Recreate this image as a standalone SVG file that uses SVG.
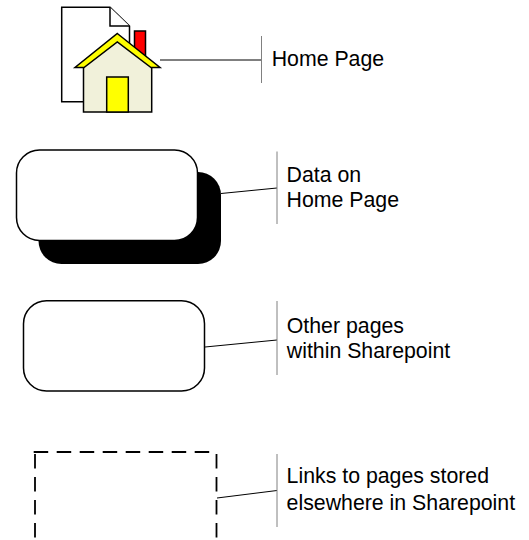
<svg xmlns="http://www.w3.org/2000/svg" width="529" height="540" viewBox="0 0 529 540">
<style>
.o{stroke:#000;stroke-width:1.5;stroke-linejoin:miter}
.b{fill:none;stroke:#808080;stroke-width:1}
.c{fill:none;stroke:#000;stroke-width:1}
.d{fill:none;stroke:#000;stroke-width:1.8;stroke-dasharray:14.5 8.5}
text{font-family:"Liberation Sans",Arial,sans-serif;font-size:21.3px;fill:#000}
</style>
<rect width="529" height="540" fill="#fff"/>
<g id="connectors">
<path class="c" d="M160 60H261"/>
<path class="b" d="M261.500 36V83"/>
<path class="c" d="M221 193.500L277 188"/>
<path class="b" d="M277 151.500V224"/>
<path class="c" d="M205 347L277 340"/>
<path class="b" d="M277 301V375"/>
<path class="c" d="M217 498L277 490.500"/>
<path class="b" d="M277 454V527"/>
</g>
<g id="home-page">
<path class="o" fill="#fff" d="M61.700 7.300H110L129.500 26V101.700H61.700Z"/>
<path class="o" fill="#fff" d="M110 7.300V26H129.500"/>
<rect class="o" fill="#f00" x="134.500" y="31" width="11" height="30"/>
<path class="o" fill="#f1f1da" d="M83.500 62L117.300 37L151.700 62V112H83.500Z"/>
<path class="o" fill="#ff0" d="M117.300 33.500L160 67.500H151L117.300 42L84 67.500H75Z"/>
<rect class="o" fill="#ff0" x="106.700" y="77" width="21.600" height="35"/>
<text x="271.700" y="65.700">Home Page</text>
</g>
<g id="data-on-home-page">
<rect x="38.500" y="172" width="182.500" height="92" rx="23" fill="#000"/>
<rect x="16.500" y="150" width="181" height="90.500" rx="23" fill="#fff" stroke="#000" stroke-width="1.500"/>
<text x="286.600" y="181.700">Data on</text>
<text x="286.600" y="206.700">Home Page</text>
</g>
<g id="other-pages">
<rect x="23.500" y="300.700" width="181" height="90.300" rx="23" fill="#fff" stroke="#000" stroke-width="1.500"/>
<text x="286.800" y="332.700">Other pages</text>
<text x="286.800" y="358.300">within Sharepoint</text>
</g>
<g id="links-elsewhere">
<path class="d" d="M33.700 452H216"/>
<path class="d" d="M35 454V538"/>
<path class="d" d="M216.500 454V538"/>
<text x="286.600" y="483.300">Links to pages stored</text>
<text x="286.600" y="510">elsewhere in Sharepoint</text>
</g>
</svg>
